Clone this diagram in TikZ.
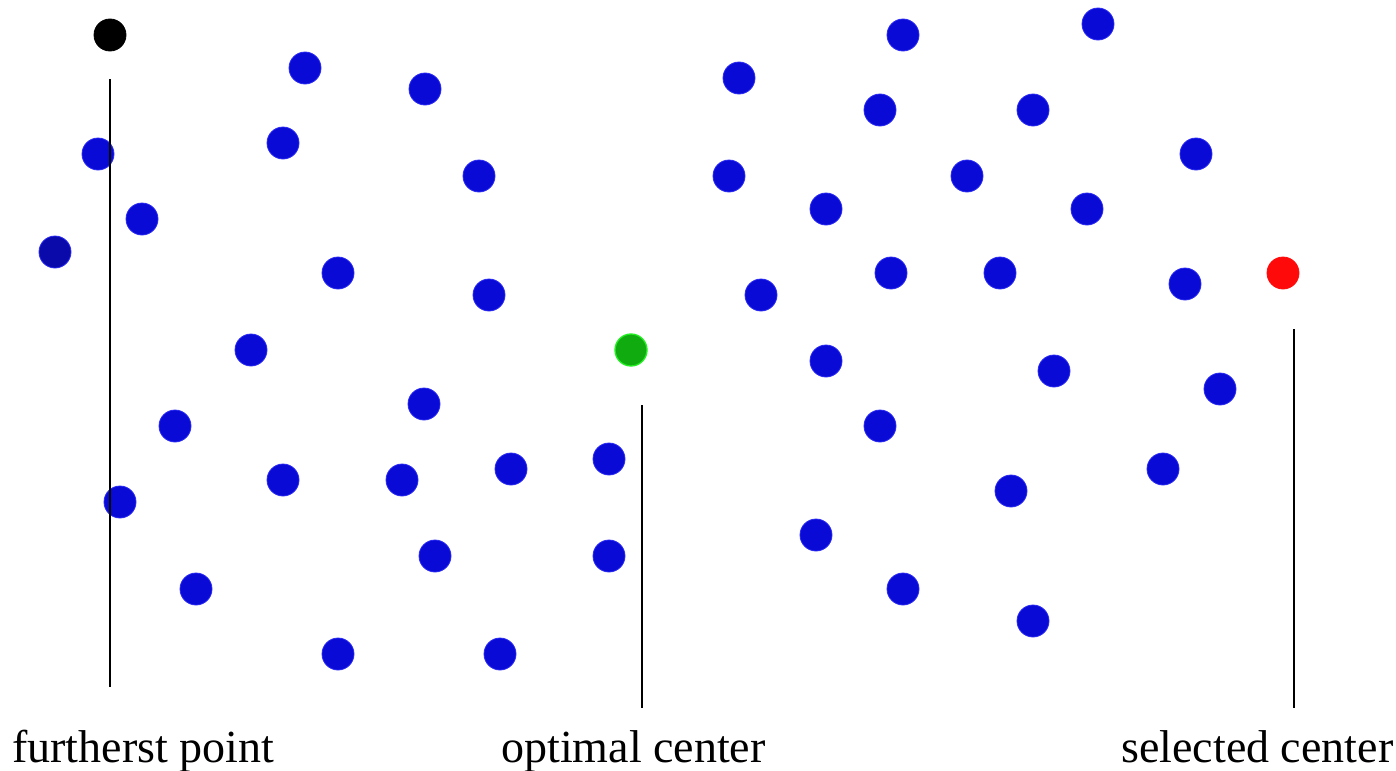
\documentclass[tikz,border=0pt]{standalone}
\usepackage{fontspec}
\setmainfont{Liberation Serif}
\definecolor{dotblue}{HTML}{0A0AD6}
\definecolor{dotedge}{HTML}{2A2AF5}
\definecolor{darkdot}{HTML}{0A0AAA}
\definecolor{greenfill}{HTML}{0FAB0F}
\definecolor{greenedge}{HTML}{22EE22}
\definecolor{redfill}{HTML}{FF0A0A}
\begin{document}
\begin{tikzpicture}[x=0.75pt,y=-0.75pt,
  pt/.style={circle,inner sep=0pt,minimum size=24pt,fill=dotblue,draw=dotedge,line width=0.6pt},
  darkpt/.style={pt,fill=darkdot},
  blackpt/.style={pt,fill=black,draw=black},
  greenpt/.style={pt,fill=greenfill,draw=greenedge,line width=1pt},
  redpt/.style={pt,fill=redfill,draw=redfill},
  vline/.style={line width=1.5pt,black},
  lbl/.style={anchor=base west,inner sep=0pt,font=\fontsize{34.5}{40}\selectfont}]
\useasboundingbox (0,0) rectangle (1396,771);
% special points
\node[blackpt] (far) at (110,35) {};
\node[greenpt] (opt) at (631,350) {};
\node[redpt] (sel) at (1283,273) {};
\node[darkpt] (d0) at (55,252) {};
% blue points
\foreach \x/\y [count=\i] in {305/68,425/89,98/154,283/143,479/176,142/219,338/273,489/295,
  251/350,424/404,175/426,283/480,402/480,511/469,609/459,120/502,435/556,609/556,196/589,
  338/654,500/654,739/78,903/35,1098/24,880/110,1033/110,729/176,967/176,1196/154,826/209,
  1087/209,891/273,1000/273,761/295,1185/284,826/361,1054/371,1220/389,880/426,1163/469,
  1011/491,816/535,903/589,1033/621}
  \node[pt] (b\i) at (\x,\y) {};
% lines
\coordinate (l1a) at (110,79); \coordinate (l1b) at (110,687);
\coordinate (l2a) at (642,405); \coordinate (l2b) at (642,708);
\coordinate (l3a) at (1294,329); \coordinate (l3b) at (1294,708);
\draw[vline] (l1a) -- (l1b);
\draw[vline] (l2a) -- (l2b);
\draw[vline] (l3a) -- (l3b);
% labels
\node[lbl] (t1) at (12,762) {furtherst point};
\node[lbl] (t2) at (501,762) {optimal center};
\node[lbl] (t3) at (1121,762) {selected center};
\end{tikzpicture}
\end{document}
